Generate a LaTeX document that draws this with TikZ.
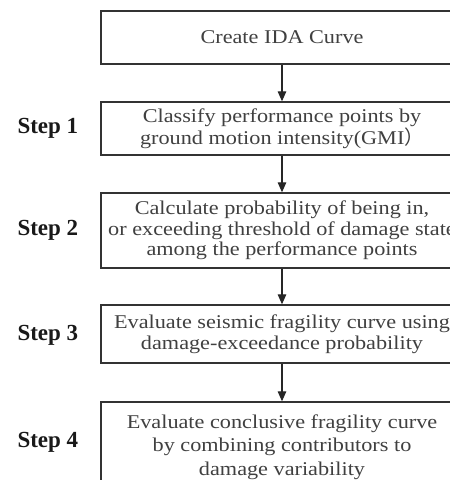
\documentclass[tikz,border=0pt]{standalone}
\usepackage{fontspec}
\setmainfont[FakeStretch=1.14]{Liberation Serif}
\newfontfamily\stepfont{Liberation Serif}
\newfontfamily\cjkfont{Noto Sans CJK SC}
\usetikzlibrary{arrows.meta}
\begin{document}
\begin{tikzpicture}[x=1pt,y=1pt,
  box/.style={draw=black!80,line width=1.3pt,text=black!75,align=center,
    minimum width=362pt,inner sep=0pt,font=\fontsize{19.5}{20.5}\selectfont},
  steplabel/.style={font=\stepfont\bfseries\fontsize{23}{25}\selectfont,text=black!90,anchor=west},
  arr/.style={draw=black!85,line width=1.2pt,-{Triangle[length=10pt,width=8.5pt]}}]
\clip (0,0) rectangle (450,480);
\useasboundingbox (0,0) rectangle (450,480);
\fill[white] (0,0) rectangle (450,480);
\node[box,minimum height=53pt] (b0) at (282,442.5) {Create IDA Curve};
\node[box,minimum height=53pt] (b1) at (282,351.5) {Classify performance points by\\ground motion intensity(GMI{\cjkfont ）}};
\node[box,minimum height=75pt] (b2) at (282,249.5) {Calculate probability of being in,\\or exceeding threshold of damage state\\among the performance points};
\node[box,minimum height=58pt] (b3) at (282,146) {Evaluate seismic fragility curve using\\damage-exceedance probability};
\node[box,minimum height=88pt] (b4) at (282,34) {};
\node[text=black!75,align=center,font=\fontsize{19.5}{23.5}\selectfont] (t4) at (282,33) {Evaluate conclusive fragility curve\\by combining contributors to\\damage variability};
\node[steplabel] (s1) at (14,352) {Step 1};
\node[steplabel] (s2) at (14,250) {Step 2};
\node[steplabel] (s3) at (14,145) {Step 3};
\node[steplabel] (s4) at (14,38) {Step 4};
\draw[arr] (b0.south) -- (b1.north);
\draw[arr] (b1.south) -- (b2.north);
\draw[arr] (b2.south) -- (b3.north);
\draw[arr] (b3.south) -- (b4.north);
\end{tikzpicture}
\end{document}
